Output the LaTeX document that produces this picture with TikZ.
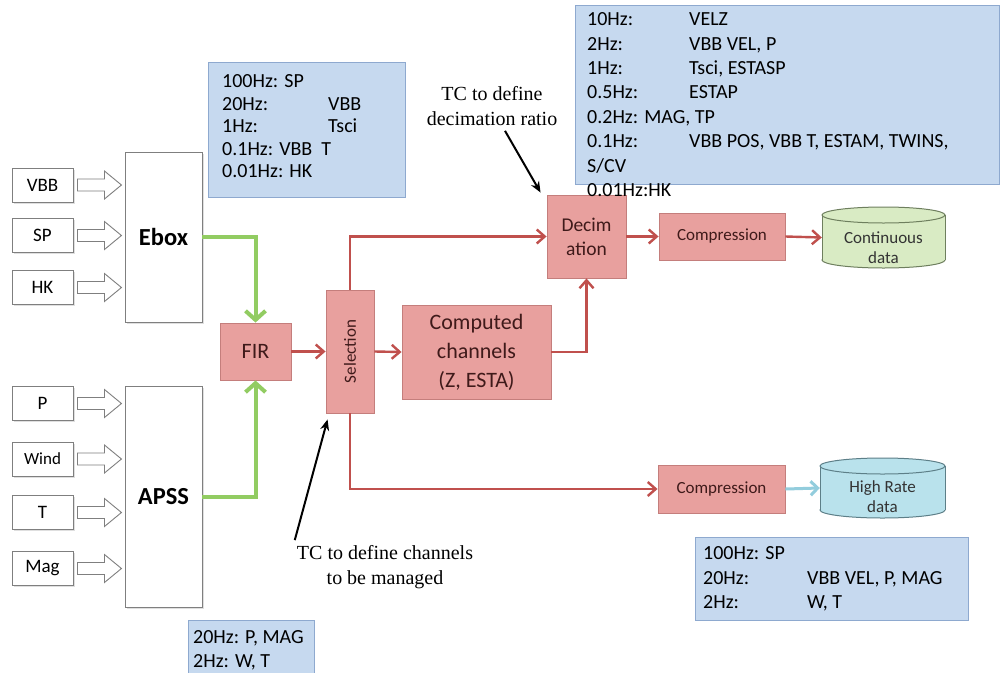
\documentclass[tikz,border=0pt]{standalone}
\usepackage{fontspec}
\setmainfont{Carlito}
\newfontfamily\seriffont{Liberation Serif}
\usetikzlibrary{arrows.meta,calc,shadows}
\definecolor{redfill}{HTML}{E8A09E}
\definecolor{redline}{HTML}{C0504D}
\definecolor{redborder}{HTML}{C47E7C}
\definecolor{redtext}{HTML}{3F1A1A}
\definecolor{greenarr}{HTML}{92CC62}
\definecolor{bluefill}{HTML}{C6D9EF}
\definecolor{blueline}{HTML}{8EA9CF}
\definecolor{cylgreen}{HTML}{D9EBC4}
\definecolor{cylgreenline}{HTML}{6E7F5E}
\definecolor{cylcyan}{HTML}{B9E2EC}
\definecolor{cylcyanline}{HTML}{5D7F88}
\definecolor{cyanarr}{HTML}{93CDDD}
\definecolor{grayline}{HTML}{7F7F7F}
\newcommand{\drawcyl}[6]{% cx, ytop, ybot, rx, fill, border
  \filldraw[fill=#5,draw=#6,line width=1pt] (#1,#3-8) ellipse [x radius=#4, y radius=8];
  \fill[#5] (#1-#4,#2+8) rectangle (#1+#4,#3-8);
  \draw[#6,line width=1pt] (#1-#4,#2+8) -- (#1-#4,#3-8) (#1+#4,#2+8) -- (#1+#4,#3-8);
  \filldraw[fill=#5,draw=#6,line width=1pt] (#1,#2+8) ellipse [x radius=#4, y radius=8];
}
\begin{document}
\begin{tikzpicture}[x=1pt,y=-1pt,
  inbox/.style={draw=grayline, line width=0.9pt, fill=white, minimum width=61pt, minimum height=34pt, inner sep=0pt, font=\fontsize{19}{21}\selectfont, drop shadow={opacity=0.25, shadow xshift=1.5pt, shadow yshift=-1.5pt}},
  bigbox/.style={draw=grayline, line width=0.9pt, fill=white, minimum width=77pt, inner sep=0pt, font=\fontsize{24.5}{28}\selectfont\bfseries, drop shadow={opacity=0.25, shadow xshift=1.5pt, shadow yshift=-1.5pt}},
  redbox/.style={draw=redborder, fill=redfill, line width=0.9pt, inner sep=0pt, align=center, text=redtext},
  redarrow/.style={draw=redline, line width=2.4pt, -{Straight Barb[length=8pt,width=14pt]}},
  greenarrow/.style={draw=greenarr, line width=4pt, -{Straight Barb[length=9pt,width=20pt]}},
  cyanarrow/.style={draw=cyanarr, line width=3pt, -{Straight Barb[length=7pt,width=14pt]}},
  blockarrow/.style={draw=grayline, line width=0.9pt, fill=white},
  bluebox/.style={draw=blueline, fill=bluefill, line width=1pt},
  bluetext/.style={anchor=north west, inner sep=0pt, align=left},
  tcarrow/.style={draw=black, line width=2pt, -{Stealth[length=11pt,width=9pt]}},
  tclabel/.style={font=\seriffont\fontsize{20}{25}\selectfont, align=center, inner sep=0pt}
]
\clip (0,0) rectangle (1001,672);
\useasboundingbox (0,0) rectangle (1001,672);
\fill[white] (0,0) rectangle (1001,672);

% blue info boxes
\draw[bluebox] (208,62) rectangle (405,197);
\draw[bluebox] (575,5) rectangle (999,184);
\draw[bluebox] (695,537) rectangle (968,620);
\draw[bluebox] (188,620) rectangle (314,690);

% input boxes
\node[inbox] (vbb) at (42.5,185) {VBB};
\node[inbox] (sp) at (42.5,235.5) {SP};
\node[inbox] (hk) at (42.5,287.5) {HK};
\node[inbox] (p) at (42.5,403.5) {P};
\node[inbox,font=\fontsize{17}{19}\selectfont] (wind) at (42.5,459) {Wind};
\node[inbox] (t) at (42.5,512.5) {T};
\node[inbox] (mag) at (42.5,568.5) {Mag};

\node[bigbox, minimum height=170pt] (ebox) at (163.5,237) {Ebox};
\node[bigbox, minimum height=221pt] (apss) at (163.5,496.5) {APSS};

\foreach \n in {vbb,sp,hk,p,wind,t,mag}{
  \draw[blockarrow] ($(\n.east)+(4,-6)$) -- ++(27,0) -- ++(0,-8) -- ++(17,14) -- ++(-17,14) -- ++(0,-8) -- ++(-27,0) -- cycle;
}

% red processing boxes
\node[redbox, minimum width=71pt, minimum height=57pt, font=\fontsize{22}{24}\selectfont] (fir) at (255.5,351.5) {FIR};
\node[redbox, minimum width=48pt, minimum height=123pt] (sel) at (350,351.5) {};
\node[rotate=90, font=\fontsize{17}{18}\selectfont, inner sep=0pt, text=redtext] (seltext) at (sel.center) {Selection};
\node[redbox, minimum width=149pt, minimum height=94pt, font=\fontsize{22}{29}\selectfont] (comp) at (476.5,352) {Computed\\channels\\(Z, ESTA)};
\node[redbox, minimum width=79pt, minimum height=83pt, font=\fontsize{19.5}{24}\selectfont] (dec) at (586.5,236.5) {Decim\\ation};
\node[redbox, minimum width=126pt, minimum height=47pt, font=\fontsize{17}{20}\selectfont] (cmpa) at (722,236.5) {Compression};
\node[redbox, minimum width=127pt, minimum height=48pt, font=\fontsize{17}{20}\selectfont] (cmpb) at (721.5,489) {Compression};

% cylinders
\drawcyl{883.5}{207}{268}{61.5}{cylgreen}{cylgreenline}
\drawcyl{882.5}{458}{518}{62.5}{cylcyan}{cylcyanline}
\node[minimum width=123pt, minimum height=61pt, inner sep=0pt] (cont) at (883.5,237.5) {};
\node[minimum width=125pt, minimum height=60pt, inner sep=0pt] (hr) at (882.5,488) {};
\node[font=\fontsize{17}{20}\selectfont, align=center, inner sep=0pt, text=black!80] (conttext) at ($(cont.center)+(0,10)$) {Continuous\\data};
\node[font=\fontsize{17}{20}\selectfont, align=center, inner sep=0pt, text=black!80] (hrtext) at ($(hr.center)+(0,9)$) {High Rate\\data};

% green connectors
\draw[greenarrow] (ebox.east) -| (fir.north);
\draw[greenarrow] (apss.east) -| (fir.south);

% red connectors
\draw[redarrow] (fir.east) -- (sel.west);
\draw[redarrow] (sel.east) -- (comp.west);
\draw[redarrow] (comp.east) -| (dec.south);
\draw[redarrow] (sel.north) |- (dec.west);
\draw[redarrow] (dec.east) -- (cmpa.west);
\draw[redarrow] (cmpa.east) -- (cont.west);
\draw[redarrow] (sel.south) |- (cmpb.west);
\draw[cyanarrow] (cmpb.east) -- (hr.west);

% TC labels
\node[tclabel] (tc1) at (492,106) {TC to define\\decimation ratio};
\node[tclabel] (tc2) at (385,567) {TC to define channels\\to be managed};
\draw[tcarrow] ($(tc1.south)+(13,5)$) -- ($(dec.north west)+(-6,-2)$);
\draw[tcarrow] ($(tc2.north west)+(-2,-5)$) -- ($(sel.south west)+(2,6)$);

% blue box texts
\node[bluetext, font=\fontsize{20}{22.5}\selectfont] (tltext) at (222,74.5) {100Hz: SP\\\makebox[106pt][l]{20Hz:}VBB\\\makebox[106pt][l]{1Hz:}Tsci\\0.1Hz: VBB\ \ T\\0.01Hz: HK};
\node[bluetext, font=\fontsize{20}{24.4}\selectfont] (trtext) at (587,12.5) {\makebox[102pt][l]{10Hz:}VELZ\\\makebox[102pt][l]{2Hz:}VBB VEL, P\\\makebox[102pt][l]{1Hz:}Tsci, ESTASP\\\makebox[102pt][l]{0.5Hz:}ESTAP\\0.2Hz: MAG, TP\\\makebox[102pt][l]{0.1Hz:}VBB POS, VBB T, ESTAM, TWINS,\\S/CV\\0.01Hz:HK};
\node[bluetext, font=\fontsize{20}{24.5}\selectfont] (brtext) at (703,546.5) {100Hz: SP\\\makebox[104pt][l]{20Hz:}VBB VEL, P, MAG\\\makebox[104pt][l]{2Hz:}W, T};
\node[bluetext, font=\fontsize{20}{23.5}\selectfont] (bltext) at (193,630.5) {20Hz: P, MAG\\2Hz: W, T};
\end{tikzpicture}
\end{document}
